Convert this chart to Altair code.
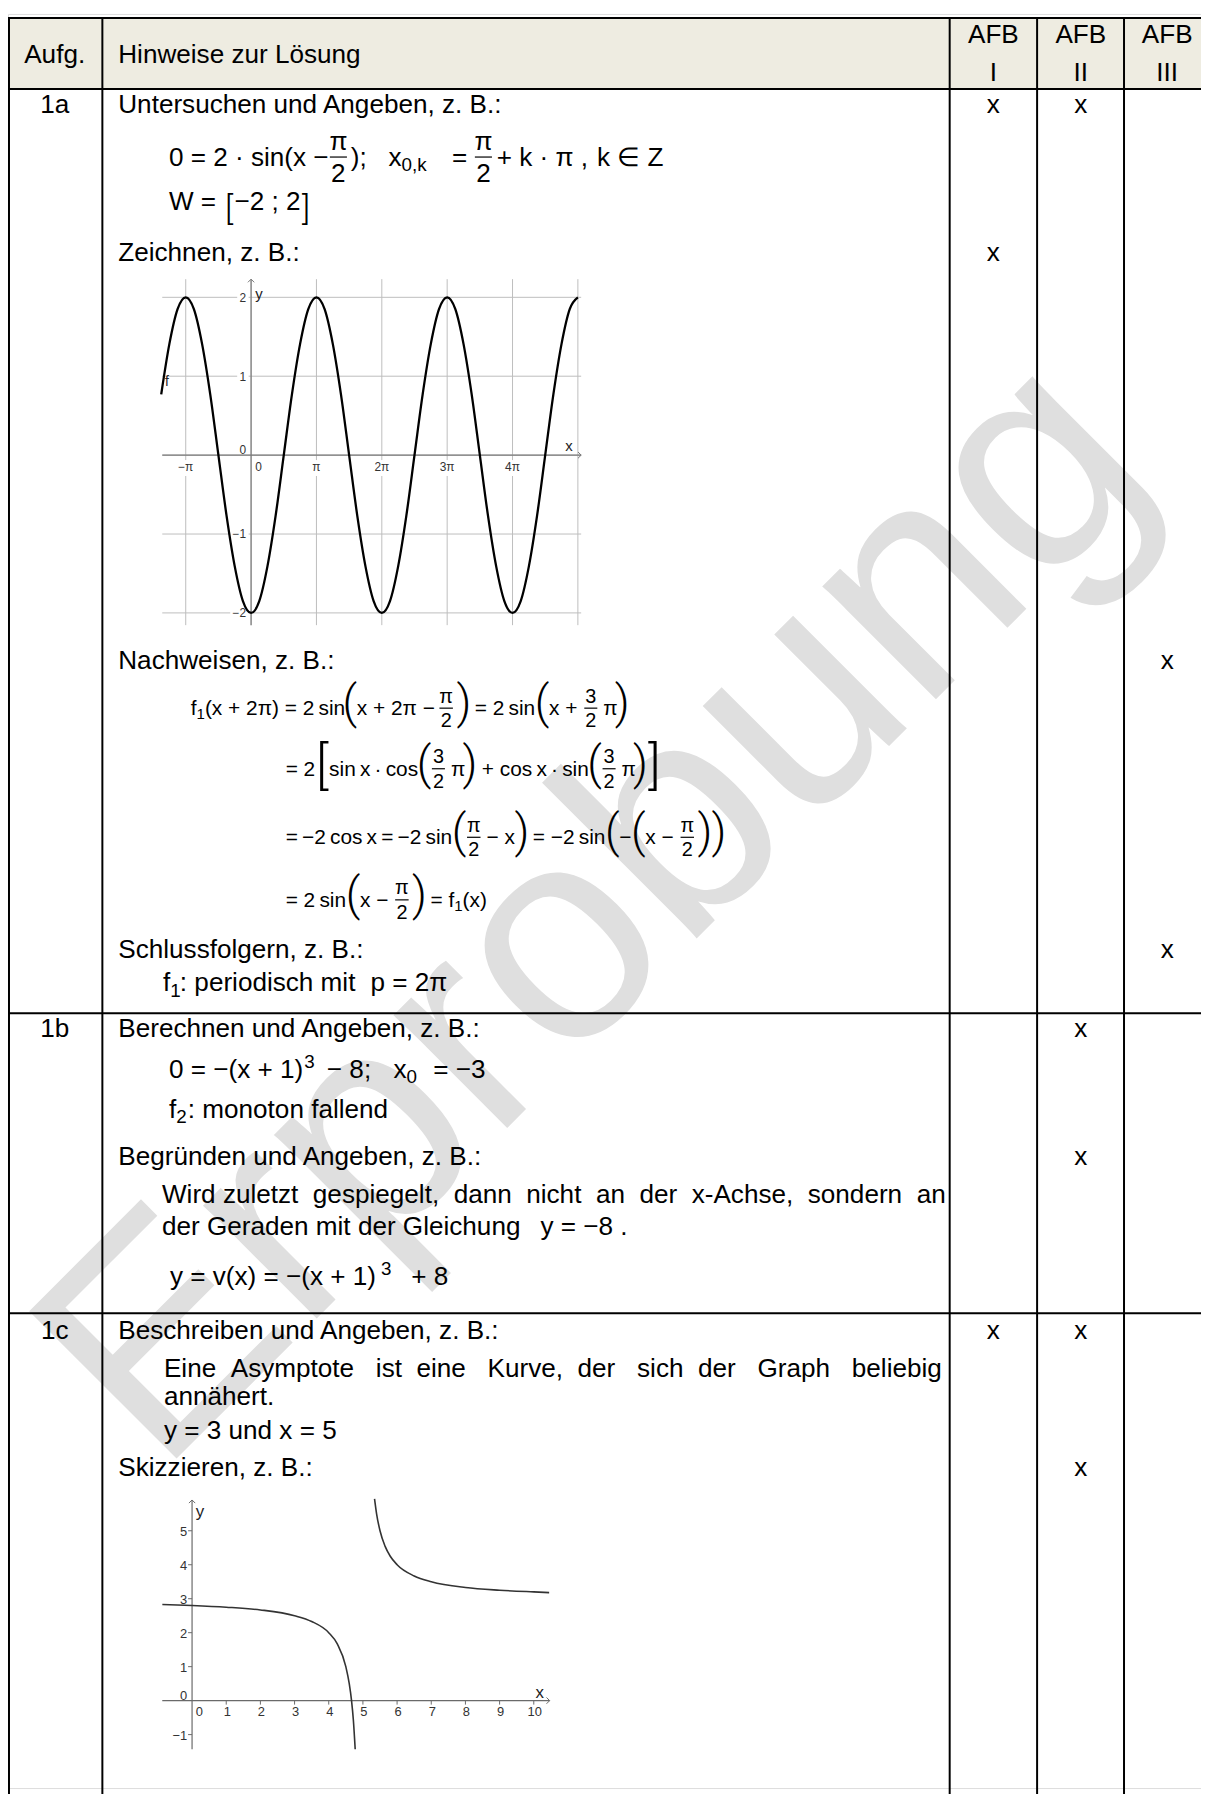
import altair as alt
import pandas as pd

# ------------------------------------------------------------------ content
HEADER_LEFT = ["Aufg.", "Hinweise zur Lösung"]
AFB_HEAD = "AFB"
AFB_LEVELS = ["I", "II", "III"]
TASK_IDS = ["1a", "1b", "1c"]
HEADINGS = [
    "Untersuchen und Angeben, z. B.:",
    "Zeichnen, z. B.:",
    "Nachweisen, z. B.:",
    "Schlussfolgern, z. B.:",
    "Berechnen und Angeben, z. B.:",
    "Begründen und Angeben, z. B.:",
    "Beschreiben und Angeben, z. B.:",
    "Skizzieren, z. B.:",
]
AFB_MARK_HEADING = [0, 0, 1, 2, 3, 4, 5, 6, 6, 7]
AFB_MARK_LEVEL = [0, 1, 0, 2, 2, 1, 1, 0, 1, 1]
JUSTIFIED_LINES = [
    "Wird zuletzt gespiegelt, dann nicht an der x-Achse, sondern an",
    "Eine Asymptote ist eine Kurve, der sich der Graph beliebig",
]
PLAIN_LINES = ["annähert.", "y = 3 und x = 5"]
WATERMARK = "Erprobung"

# graph 1 : f1(x) = 2 sin(x - pi/2), x in multiples of pi
SINE_T = [-1.375, -1.25, -1.125, -1.0, -0.875, -0.75, -0.625, -0.5, -0.375, -0.25, -0.125,
          0.0, 0.125, 0.25, 0.375, 0.5, 0.625, 0.75, 0.875, 1.0, 1.125, 1.25, 1.375, 1.5,
          1.625, 1.75, 1.875, 2.0, 2.125, 2.25, 2.375, 2.5, 2.625, 2.75, 2.875, 3.0, 3.125,
          3.25, 3.375, 3.5, 3.625, 3.75, 3.875, 4.0, 4.125, 4.25, 4.375, 4.5, 4.625, 4.75,
          4.875, 5.0]
SINE_Y = [0.77, 1.41, 1.85, 2.0, 1.85, 1.41, 0.77, 0.0, -0.77, -1.41, -1.85,
          -2.0, -1.85, -1.41, -0.77, 0.0, 0.77, 1.41, 1.85, 2.0, 1.85, 1.41, 0.77, 0.0,
          -0.77, -1.41, -1.85, -2.0, -1.85, -1.41, -0.77, 0.0, 0.77, 1.41, 1.85, 2.0, 1.85,
          1.41, 0.77, 0.0, -0.77, -1.41, -1.85, -2.0, -1.85, -1.41, -0.77, 0.0, 0.77, 1.41,
          1.85, 2.0]
SINE_GRID_T = [-1, 0, 1, 2, 3, 4, 5]
SINE_GRID_Y = [-2, -1, 0, 1, 2]
SINE_XTICK_T = [-1, 1, 2, 3, 4]
SINE_XTICK_LABEL = ["−π", "π", "2π", "3π", "4π"]
SINE_YTICK_V = [2, 1, -1, -2]
SINE_YTICK_LABEL = ["2", "1", "−1", "−2"]

# graph 2 : hyperbola with asymptotes y = 3, x = 5
HYP_LEFT_X = [-0.87, 0.0, 1.0, 2.0, 3.0, 3.5, 4.0, 4.25, 4.5, 4.6, 4.667, 4.72, 4.774]
HYP_LEFT_Y = [2.83, 2.80, 2.75, 2.67, 2.50, 2.33, 2.00, 1.67, 1.00, 0.50, 0.0, -0.57, -1.43]
HYP_RIGHT_X = [5.34, 5.4, 5.5, 5.65, 5.8, 6.0, 6.5, 7.0, 8.0, 9.0, 10.0, 10.45]
HYP_RIGHT_Y = [5.94, 5.5, 5.0, 4.54, 4.25, 4.0, 3.67, 3.5, 3.33, 3.25, 3.2, 3.18]
HYP_XTICKS = [1, 2, 3, 4, 5, 6, 7, 8, 9, 10]
HYP_YTICKS = [5, 4, 3, 2, 1, -1]

# ------------------------------------------------------------------ layout
M = 8
PAGE_W, PAGE_H = 1209, 1794
FONT = "Liberation Sans, Arial, sans-serif"
BIGFONT = "Roboto, Liberation Sans, sans-serif"
MAIN = 26.3
COL_X = [9, 103, 956, 1044, 1131.5]
ROW_Y = [12, 83.5, 1014, 1316]
HEADER_FILL = "#eeece1"
AFB_CX = [1000, 1088, 1175]
TASK_CX = 55
TEXT_X = 119
HEADER_BASE, AFB_BASE, LEVEL_BASE = 57, 37, 75
HEADING_BASE = [108, 257, 667, 958, 1038, 1167, 1342, 1480]
TASK_BASE = [108, 1038, 1342]
GRID = "#bdbdbd"
AXIS = "#7a7a7a"

W_EM = {' ': .278, '\u2009': .2, '\u00a0': .278, '=': .584, '+': .584, '−': .584, '(': .333,
        ')': .333, '[': .278, ']': .278, '·': .278, ',': .278, ';': .278, ':': .278, '.': .278,
        '-': .333, 'π': .578, '∈': .713, 'i': .222, 'l': .222, 'j': .222, 'f': .278, 't': .278,
        'r': .333, 'm': .833, 'w': .722, 'x': .5, 's': .5, 'c': .5, 'k': .5, 'v': .5, 'y': .5,
        'z': .5, 'A': .667, 'B': .667, 'E': .667, 'K': .667, 'G': .778, 'W': .944, 'Z': .611}


def tw(s, size):
    return sum(W_EM.get(ch, 0.556) for ch in s) * size


L_PIECES, C_PIECES, BIG_PIECES, BARS = [], [], [], []


def formula(x, base, size, tokens, frac_size=None):
    fs = frac_size or size
    bar = base - 0.34 * size
    for tok in tokens:
        if isinstance(tok, str):
            L_PIECES.append(dict(X=x, Y=base, t=tok, s=size))
            x += tw(tok, size)
            continue
        k = tok[0]
        if k == "at":
            x = tok[1]
        elif k == "gap":
            x += tok[1]
        elif k == "sub":
            s2 = size * 0.72
            L_PIECES.append(dict(X=x, Y=base + 0.2 * size, t=tok[1], s=s2))
            x += tw(tok[1], s2)
        elif k == "sup":
            s2 = size * 0.72
            L_PIECES.append(dict(X=x + 1, Y=base - 0.38 * size, t=tok[1], s=s2))
            x += tw(tok[1], s2) + 1
        elif k == "frac":
            w = max(tw(tok[1], fs), tw(tok[2], fs)) + 4
            xc = x + w / 2
            C_PIECES.append(dict(X=xc, Y=bar - 0.28 * fs, t=tok[1], s=fs))
            C_PIECES.append(dict(X=xc, Y=bar + 0.95 * fs, t=tok[2], s=fs))
            BARS.append(dict(X=x + 1, X2=x + w - 1, Y=bar, Y2=bar))
            x += w + 3
        elif k == "big":
            BIG_PIECES.append(dict(X=x + tok[3] / 2, Y=bar + tok[4], t=tok[1], s=tok[2]))
            x += tok[3]
    return x


def FR(n, d):
    return ("frac", n, d)


def BG(ch, fs=46, adv=14, dy=10):
    return ("big", ch, fs, adv, dy)


def justify(text, x0, x1, size):
    words = text.split(" ")
    extra = (x1 - x0) - tw(text, size)
    gaps = len(words) - 1
    total = max(0, round(extra / (W_EM['\u00a0'] * size)))
    out = words[0]
    for i, w in enumerate(words[1:]):
        k = (total * (i + 1)) // gaps - (total * i) // gaps
        out += " " + "\u00a0" * k + w
    return out


# header + task ids + headings
C_PIECES.append(dict(X=TASK_CX, Y=HEADER_BASE, t=HEADER_LEFT[0], s=MAIN))
L_PIECES.append(dict(X=TEXT_X, Y=HEADER_BASE, t=HEADER_LEFT[1], s=MAIN))
for cx, lev in zip(AFB_CX, AFB_LEVELS):
    C_PIECES.append(dict(X=cx, Y=AFB_BASE, t=AFB_HEAD, s=MAIN))
    C_PIECES.append(dict(X=cx, Y=LEVEL_BASE, t=lev, s=MAIN))
for tid, yb in zip(TASK_IDS, TASK_BASE):
    C_PIECES.append(dict(X=TASK_CX, Y=yb, t=tid, s=MAIN))
for h, yb in zip(HEADINGS, HEADING_BASE):
    L_PIECES.append(dict(X=TEXT_X, Y=yb, t=h, s=MAIN))
for hi, lev in zip(AFB_MARK_HEADING, AFB_MARK_LEVEL):
    C_PIECES.append(dict(X=AFB_CX[lev], Y=HEADING_BASE[hi], t="x", s=MAIN))

# 1a formulas
formula(170, 161, MAIN, ["0 = 2 · sin(x − ", ("at", 331), FR("π", "2"), ("at", 353), ");",
                         ("at", 391), "x", ("sub", "0,k"), ("at", 455), "=", ("at", 477),
                         FR("π", "2"), ("at", 500), "+ k · π ,", ("at", 601), "k ∈ Z"])
formula(170, 205, MAIN, ["W = ", ("at", 225), BG("[", 34, 11, 19), "−2 ; 2", BG("]", 34, 11, 19)])

# Nachweisen block
NF, NFF = 21, 20
formula(192, 714, NF, ["f", ("sub", "1"), "(x + 2π) = 2\u2009sin", BG("("), "x + 2π − ", FR("π", "2"),
                       BG(")"), ("gap", 4), "= 2\u2009sin", BG("("), "x + ", FR("3", "2"), ("gap", 2),
                       "π", BG(")")], NFF)
formula(287.5, 775, NF, ["= 2", BG("[", 52, 14, 14), "sin\u2009x\u2009·\u2009cos", BG("("), FR("3", "2"),
                         ("gap", 2), "π", BG(")"), ("gap", 5), "+ cos\u2009x\u2009·\u2009sin", BG("("),
                         FR("3", "2"), ("gap", 2), "π", BG(")"), BG("]", 52, 14, 14)], NFF)
formula(287.5, 844, NF, ["=\u2009−2\u2009cos\u2009x\u2009=\u2009−2\u2009sin", BG("("), FR("π", "2"),
                         ("gap", 2), "− x", BG(")"), ("gap", 4), "= −2\u2009sin", BG("("), "−",
                         BG("("), "x − ", FR("π", "2"), BG(")"), BG(")")], NFF)
formula(287.5, 907, NF, ["= 2\u2009sin", BG("("), "x − ", FR("π", "2"), BG(")"), ("gap", 4), "= f",
                         ("sub", "1"), "(x)"], NFF)
formula(164, 992, MAIN, ["f", ("sub", "1"), ("at", 181), ": periodisch mit", ("at", 373), "p = 2π"])

# 1b formulas
formula(170, 1079, MAIN, ["0 = −(x + 1)", ("sup", "3"), ("at", 329), "− 8;", ("at", 396), "x",
                          ("sub", "0"), ("at", 436), "= −3"])
formula(170, 1119, MAIN, ["f", ("sub", "2"), ("at", 189), ": monoton fallend"])
L_PIECES.append(dict(X=163, Y=1205, t=justify(JUSTIFIED_LINES[0], 163, 950, MAIN), s=MAIN))
formula(163, 1237, MAIN, ["der Geraden mit der Gleichung", ("at", 544), "y = −8 ."])
formula(171, 1288, MAIN, ["y = v(x) = −(x + 1)", ("gap", 4), ("sup", "3"), ("at", 414), "+ 8"])

# 1c text
L_PIECES.append(dict(X=165, Y=1380, t=justify(JUSTIFIED_LINES[1], 165, 950, MAIN), s=MAIN))
L_PIECES.append(dict(X=165, Y=1408, t=PLAIN_LINES[0], s=MAIN))
L_PIECES.append(dict(X=165, Y=1443, t=PLAIN_LINES[1], s=MAIN))

# axis names of the two sketches (page coordinates)
NAME_PIECES = [dict(X=257, Y=295, t="y", s=15), dict(X=569, Y=448, t="x", s=15),
               dict(X=166, Y=383, t="f", s=14),
               dict(X=197, Y=1521, t="y", s=17), dict(X=539, Y=1703, t="x", s=17)]


# ------------------------------------------------------------------ scales
def lin(domain, rng):
    return alt.Scale(domain=list(domain), range=list(rng), nice=False, zero=False)


def px():
    return lin([0, PAGE_W], [-M, PAGE_W - M])


def py():
    return lin([0, PAGE_H], [-M, PAGE_H - M])


G1 = dict(X0=163.3, X1=585.0, Y0=275.0, Y1=623.3, T0=-1.359, T1=5.05, V0=-2.155, V1=2.23)
G2 = dict(X0=163.3, X1=553.3, Y0=1504.0, Y1=1755.0, T0=-0.872, T1=10.465, V0=-1.433, V1=5.906)


def gx(G):
    return lin([G["T0"], G["T1"]], [G["X0"] - M, G["X1"] - M])


def gy(G):
    return lin([G["V0"], G["V1"]], [G["Y1"] - M, G["Y0"] - M])


def page_text(rows, align, font=FONT, weight="normal", color="#000", angle=None):
    kw = dict(align=align, baseline="alphabetic", font=font, fontWeight=weight, color=color)
    if angle is not None:
        kw["angle"] = angle
    return alt.Chart(pd.DataFrame(rows)).mark_text(**kw).encode(
        x=alt.X("X:Q", scale=px(), axis=None),
        y=alt.Y("Y:Q", scale=py(), axis=None),
        text=alt.Text("t:N"),
        size=alt.Size("s:Q", scale=None, legend=None))


def page_rule(rows, width, color="#000"):
    return alt.Chart(pd.DataFrame(rows)).mark_rule(color=color, strokeWidth=width).encode(
        x=alt.X("X:Q", scale=px(), axis=None), x2="X2:Q",
        y=alt.Y("Y:Q", scale=py(), axis=None), y2="Y2:Q")


def g_rule(G, rows, color, width):
    return alt.Chart(pd.DataFrame(rows)).mark_rule(color=color, strokeWidth=width).encode(
        x=alt.X("a:Q", scale=gx(G), axis=None), x2="b:Q",
        y=alt.Y("c:Q", scale=gy(G), axis=None), y2="d:Q")


def g_labels(G, rows, align, dx, dy, size, color="#333"):
    return alt.Chart(pd.DataFrame(rows)).mark_text(
        align=align, baseline="alphabetic", dx=dx, dy=dy, fontSize=size, font=FONT, color=color
    ).encode(x=alt.X("a:Q", scale=gx(G), axis=None), y=alt.Y("c:Q", scale=gy(G), axis=None),
             text="lab:N")


def g_arrow(G, a, c, shape, color, size):
    return alt.Chart(pd.DataFrame([dict(a=a, c=c)])).mark_point(
        shape=shape, filled=False, size=size, strokeWidth=1, color=color, opacity=1
    ).encode(x=alt.X("a:Q", scale=gx(G), axis=None), y=alt.Y("c:Q", scale=gy(G), axis=None))


layers = []

# watermark
layers.append(page_text([dict(X=160, Y=1480, t=WATERMARK, s=305)], "left", color="#dfdfdf", angle=315))

# header background
layers.append(alt.Chart(pd.DataFrame([dict(X=COL_X[0], X2=PAGE_W + 20, Y=ROW_Y[0], Y2=ROW_Y[1])]))
              .mark_rect(color=HEADER_FILL).encode(
                  x=alt.X("X:Q", scale=px(), axis=None), x2="X2:Q",
                  y=alt.Y("Y:Q", scale=py(), axis=None), y2="Y2:Q"))

# ---------------- graph 1
sx1 = (G1["X1"] - G1["X0"]) / (G1["T1"] - G1["T0"])
sy1 = (G1["Y1"] - G1["Y0"]) / (G1["V1"] - G1["V0"])
layers.append(g_rule(G1, [dict(a=t, b=t, c=G1["V0"], d=G1["V1"]) for t in SINE_GRID_T], GRID, 1))
layers.append(g_rule(G1, [dict(a=G1["T0"], b=G1["T1"], c=v, d=v) for v in SINE_GRID_Y], GRID, 1))
boxes = []
for t, lab in zip(SINE_XTICK_T, SINE_XTICK_LABEL):
    w = 7 * len(lab) + 5
    boxes.append(dict(a=t - w / 2 / sx1, b=t + w / 2 / sx1, c=-5 / sy1, d=-21 / sy1))
boxes.append(dict(a=2.5 / sx1, b=12.5 / sx1, c=-5 / sy1, d=-21 / sy1))
for v, lab in zip(SINE_YTICK_V, SINE_YTICK_LABEL):
    w = 7 * len(lab) + 3
    boxes.append(dict(a=-(4 + w) / sx1, b=-2.5 / sx1, c=v + 7 / sy1, d=v - 7 / sy1))
boxes.append(dict(a=-14 / sx1, b=-2.5 / sx1, c=13 / sy1, d=1 / sy1))
layers.append(alt.Chart(pd.DataFrame(boxes)).mark_rect(color="white").encode(
    x=alt.X("a:Q", scale=gx(G1), axis=None), x2="b:Q",
    y=alt.Y("c:Q", scale=gy(G1), axis=None), y2="d:Q"))
layers.append(g_rule(G1, [dict(a=G1["T0"], b=G1["T1"], c=0, d=0), dict(a=0, b=0, c=G1["V0"], d=G1["V1"])],
                     AXIS, 1.2))
layers.append(g_arrow(G1, 0, G1["V1"], "M-1,1L0,0L1,1", AXIS, 40))
layers.append(g_arrow(G1, G1["T1"], 0, "M-1,-1L0,0L-1,1", AXIS, 40))
layers.append(alt.Chart(pd.DataFrame({"t": SINE_T, "v": SINE_Y})).mark_line(
    color="#000", strokeWidth=2.3, interpolate="monotone").encode(
    x=alt.X("t:Q", scale=gx(G1), axis=None), y=alt.Y("v:Q", scale=gy(G1), axis=None)))
layers.append(g_labels(G1, [dict(a=t, c=0, lab=l) for t, l in zip(SINE_XTICK_T, SINE_XTICK_LABEL)],
                       "center", 0, 16, 12))
layers.append(g_labels(G1, [dict(a=0, c=0, lab="0")], "center", 7.5, 16, 12))
layers.append(g_labels(G1, [dict(a=0, c=v, lab=l) for v, l in zip(SINE_YTICK_V, SINE_YTICK_LABEL)],
                       "right", -5, 4.5, 12))
layers.append(g_labels(G1, [dict(a=0, c=0, lab="0")], "right", -5, -1.5, 12))

# ---------------- graph 2
sx2 = (G2["X1"] - G2["X0"]) / (G2["T1"] - G2["T0"])
sy2 = (G2["Y1"] - G2["Y0"]) / (G2["V1"] - G2["V0"])
AX2 = "#6a6a6a"
layers.append(g_rule(G2, [dict(a=G2["T0"], b=G2["T1"], c=0, d=0), dict(a=0, b=0, c=G2["V0"], d=G2["V1"])],
                     AX2, 1.2))
layers.append(g_rule(G2, [dict(a=t, b=t, c=0, d=-4 / sy2) for t in HYP_XTICKS], AX2, 1))
layers.append(g_rule(G2, [dict(a=-4 / sx2, b=0, c=v, d=v) for v in HYP_YTICKS], AX2, 1))
layers.append(g_arrow(G2, 0, G2["V1"], "M-1,1L0,0L1,1", AX2, 40))
layers.append(g_arrow(G2, G2["T1"], 0, "M-1,-1L0,0L-1,1", AX2, 40))
hyp = pd.DataFrame({"a": HYP_LEFT_X + HYP_RIGHT_X, "c": HYP_LEFT_Y + HYP_RIGHT_Y,
                    "branch": ["left"] * len(HYP_LEFT_X) + ["right"] * len(HYP_RIGHT_X)})
layers.append(alt.Chart(hyp).mark_line(color="#333", strokeWidth=1.6, interpolate="monotone").encode(
    x=alt.X("a:Q", scale=gx(G2), axis=None), y=alt.Y("c:Q", scale=gy(G2), axis=None),
    detail="branch:N"))
layers.append(g_labels(G2, [dict(a=t, c=0, lab=str(t)) for t in HYP_XTICKS], "center", 1, 15.7, 13))
layers.append(g_labels(G2, [dict(a=0, c=0, lab="0")], "center", 7.4, 15.7, 13))
layers.append(g_labels(G2, [dict(a=0, c=v, lab=str(v).replace("-", "−")) for v in HYP_YTICKS],
                       "right", -5, 5, 13))
layers.append(g_labels(G2, [dict(a=0, c=0, lab="0")], "right", -5, -1, 13))

# ---------------- texts
layers.append(page_text(NAME_PIECES, "left", color="#222"))
layers.append(page_text(L_PIECES, "left"))
layers.append(page_text(C_PIECES, "center"))
layers.append(page_text(BIG_PIECES, "center", font=BIGFONT, weight=300))
layers.append(page_rule(BARS, 1.2))

# ---------------- table borders
hl = [dict(X=COL_X[0] - 1, X2=PAGE_W + 20, Y=y, Y2=y) for y in ROW_Y]
vl = [dict(X=x, X2=x, Y=ROW_Y[0] - 1, Y2=PAGE_H + 20) for x in COL_X]
layers.append(page_rule(hl + vl, 2))

chart = alt.layer(*layers).resolve_scale(x="independent", y="independent").properties(
    width=PAGE_W - M, height=PAGE_H - M,
    autosize=alt.AutoSizeParams(type="none"), padding=0,
).configure_view(stroke=None).configure(background="white")

chart.save("out.html", embed_options={"renderer": "svg", "actions": False})
